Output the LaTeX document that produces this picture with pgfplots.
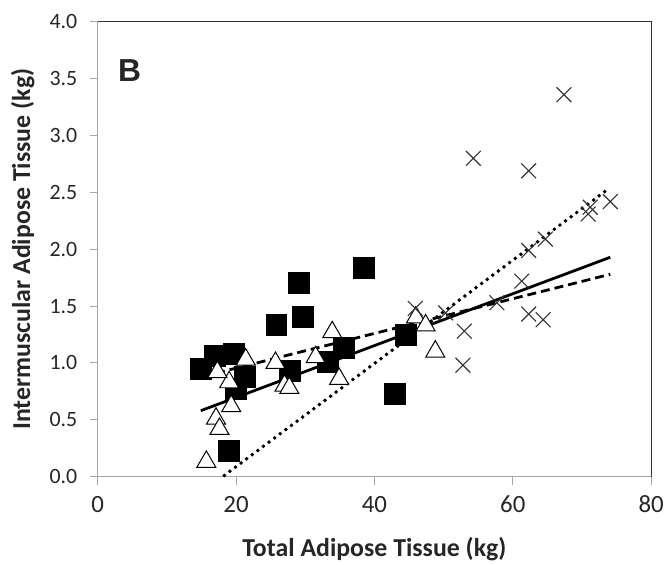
\documentclass[border=0pt]{standalone}
\usepackage{fontspec}
\setmainfont{Carlito}
\newfontfamily\arialfont{Liberation Sans}
\usepackage{pgfplots}
\pgfplotsset{compat=1.18}
\begin{document}
\begin{tikzpicture}
\begin{axis}[
  at={(0,0)}, anchor=south west,
  scale only axis, width=555bp, height=456bp,
  xmin=0, xmax=80, ymin=0, ymax=4,
  xtick={0,20,40,60,80},
  ytick={0,0.5,1,1.5,2,2.5,3,3.5,4},
  xtick pos=bottom, ytick pos=left,
  tick align=outside, major tick length=8bp,
  tick style={color=black!35, line width=1pt},
  y tick label style={/pgf/number format/fixed, /pgf/number format/fixed zerofill, /pgf/number format/precision=1},
  /pgf/number format/assume math mode=true,
  xticklabel style={font=\fontsize{25}{28}\selectfont, text=black!85, anchor=center, yshift=-20bp},
  yticklabel style={font=\fontsize{22}{26}\selectfont, text=black!85, anchor=east, xshift=-9bp},
  xlabel={Total Adipose Tissue (kg)},
  ylabel={Intermuscular Adipose Tissue (kg)},
  xlabel style={font=\bfseries\fontsize{26}{30}\selectfont, text=black!85, at={(axis description cs:0.5,0)}, anchor=base, yshift=-80bp},
  ylabel style={font=\bfseries\fontsize{26}{30}\selectfont, text=black!85, at={(axis description cs:-0.122,0.5)}, anchor=base, rotate=0},
  axis line style={draw=none},
  clip=false,
]
% plot border
\draw[black!80, line width=1pt] (rel axis cs:0,1) -- (rel axis cs:1,1) -- (rel axis cs:1,0);
\draw[black!35, line width=1.4pt] (rel axis cs:0,1) -- (rel axis cs:0,0) -- (rel axis cs:1,0);

% squares
\addplot[only marks, mark=square*, mark size=10.5bp, mark options={fill=black, draw=black}] coordinates {
 (14.9,0.95) (16.9,1.06) (19.7,1.08) (21.2,0.88) (20.0,0.77) (19.0,0.23)
 (25.8,1.34) (27.7,0.93) (29.1,1.71) (29.7,1.41) (33.3,1.01) (35.5,1.13)
 (38.5,1.84) (42.9,0.73) (44.5,1.25)
};
% triangles
\addplot[only marks, mark=triangle*, mark size=11bp, mark options={fill=white, draw=black, line width=1pt}] coordinates {
 (15.7,0.13) (17.1,0.51) (17.6,0.42) (19.3,0.62) (19.0,0.83) (17.3,0.92)
 (21.4,1.03) (25.7,1.00) (27.0,0.80) (27.7,0.78) (31.5,1.05) (33.9,1.27)
 (34.9,0.86) (46.0,1.40) (47.4,1.33) (48.8,1.10)
};
% crosses
\addplot[only marks, mark=x, mark size=10.5bp, mark options={draw=black!80, line width=1.1pt}] coordinates {
 (45.9,1.48) (50.3,1.44) (53.0,1.28) (52.8,0.98) (54.3,2.80) (57.7,1.53)
 (61.3,1.72) (62.3,1.43) (64.4,1.38) (62.3,1.99) (64.7,2.09) (62.3,2.69)
 (67.4,3.36) (70.9,2.31) (71.2,2.37) (74.1,2.42)
};
% regression lines
\addplot[black, line width=2.8pt, no marks] coordinates {(14.9,0.58) (74.1,1.93)};
\addplot[black, line width=2.8pt, no marks, dash pattern=on 9bp off 5bp] coordinates {(17.1,0.91) (74.1,1.78)};
\addplot[black, line width=4pt, no marks, line cap=round, dash pattern=on 0pt off 7bp] coordinates {(18.3,0.01) (73.8,2.53)};

\node[font=\arialfont\bfseries\fontsize{32}{36}\selectfont, text=black!85] at (axis cs:4.6,3.57) {B};
\end{axis}
\path (-98bp,-85bp) rectangle (569bp,478bp);
\end{tikzpicture}
\end{document}
